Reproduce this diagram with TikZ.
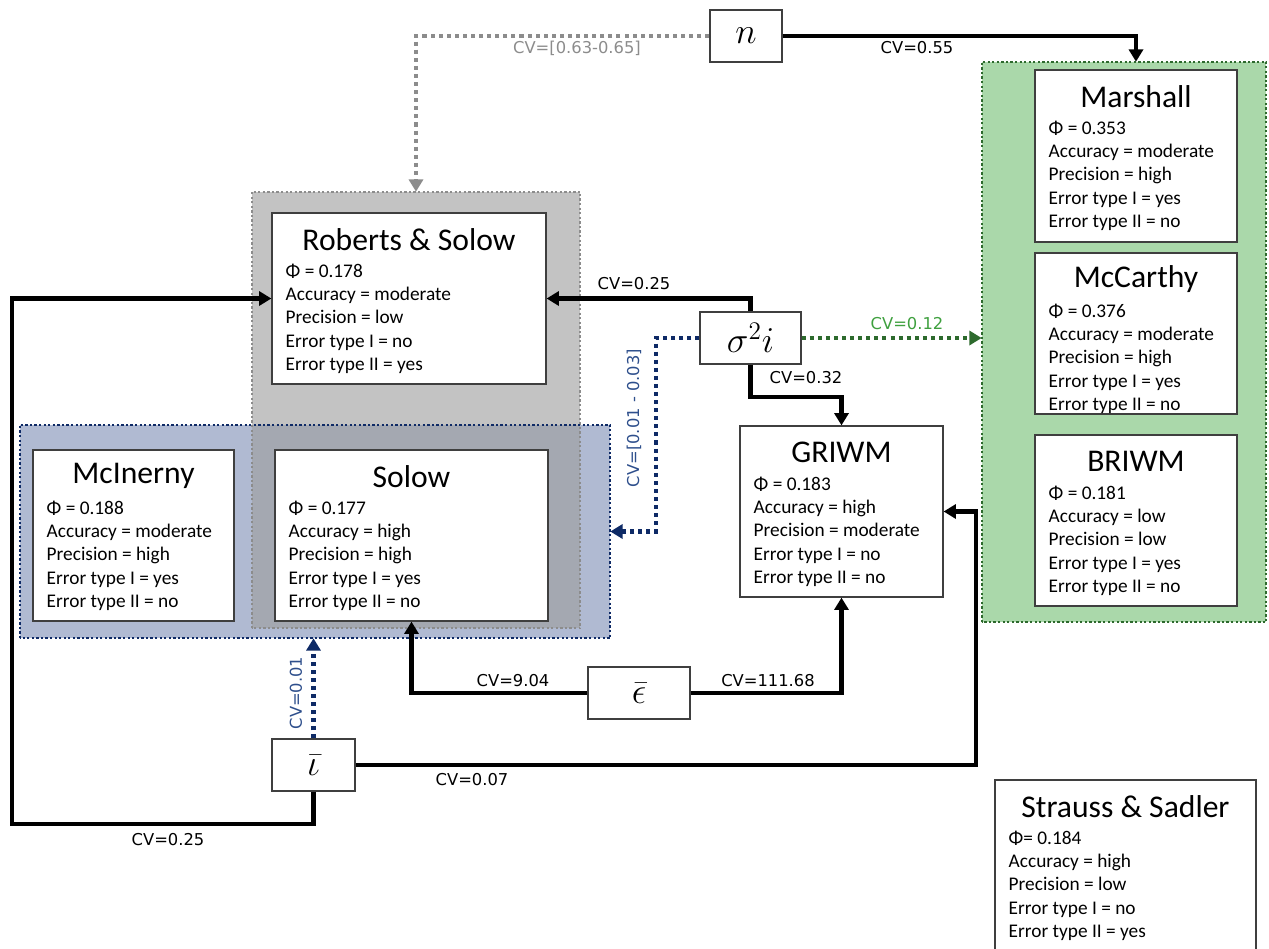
\documentclass[tikz,border=0pt]{standalone}
\usepackage{fontspec}
\setmainfont{Carlito}
\newfontfamily\cvfont{DejaVu Sans}
\usetikzlibrary{arrows.meta, calc}
\definecolor{frame}{HTML}{3F3F3F}
\definecolor{navy}{HTML}{0E2A66}
\definecolor{navytext}{HTML}{2E4F8C}
\definecolor{greyline}{HTML}{8C8C8C}
\definecolor{greyfill}{HTML}{9E9E9E}
\definecolor{bluefill}{HTML}{B0BAD2}
\definecolor{greenfill}{HTML}{AAD8AA}
\definecolor{greenline}{HTML}{2D6A2D}
\definecolor{greentext}{HTML}{3FA03F}
\tikzset{
  modelframe/.style={rectangle, draw=frame, line width=0.7pt, fill=white, inner sep=0pt},
  modeltitle/.style={font=\fontsize{18}{21}\selectfont, inner sep=0pt},
  modelbody/.style={font=\fontsize{11}{13.3}\selectfont, align=left, inner sep=0pt},
  varbox/.style={rectangle, draw=frame, line width=0.7pt, fill=white, minimum height=1.04cm,
    font=\fontsize{20}{24}\selectfont},
  region/.style={rectangle, inner sep=0pt},
  regionborder/.style={line width=1.3pt, dash pattern=on 1.3pt off 1.3pt},
  tip/.style={-{Triangle[length=7pt, width=8pt]}},
  solidlink/.style={tip, line width=2.3pt, draw=black},
  dotlink/.style={tip, line width=2.3pt, dash pattern=on 2.3pt off 2.3pt},
  cvlbl/.style={font=\cvfont\fontsize{9.3}{11}\selectfont, inner sep=1pt}
}
% name, centre, width (px), height (px), title, lines
\newcommand{\modelbox}[6]{%
  \node[modelframe, minimum width=#3*0.02cm, minimum height=#4*0.02cm] (#1) at #2 {};
  \node[modeltitle] (#1-title) at ($(#1.north)+(0,27)$) {#5};
  \node[modelbody, anchor=north west] (#1-body) at ($(#1.north west)+(14,51)$) {#6};
}

\begin{document}
\begin{tikzpicture}[x=0.02cm, y=-0.02cm]
  \useasboundingbox (0,0) rectangle (1269,948);

  % ---- Groups --------------------------------------------------------------
  \node[region, fill=bluefill, minimum width=11.8cm, minimum height=4.26cm] (blue) at (315,531.5) {};
  \node[region, fill=greyfill, fill opacity=0.62, minimum width=6.56cm, minimum height=8.72cm] (grey) at (416,410) {};
  \node[region, fill=greenfill, minimum width=5.68cm, minimum height=11.2cm] (green) at (1124,342) {};
  \draw[regionborder, draw=greyline] (grey.south west) rectangle (grey.north east);
  \draw[regionborder, draw=navy] (blue.south west) rectangle (blue.north east);
  \draw[regionborder, draw=greenline] (green.south west) rectangle (green.north east);

  % ---- Models --------------------------------------------------------------
  \modelbox{rs}{(409,298.5)}{274}{171}{Roberts \& Solow}
    {Φ = 0.178\\Accuracy = moderate\\Precision = low\\Error type I = no\\Error type II = yes}
  \modelbox{mcinerny}{(133.5,535.5)}{201}{171}{McInerny}
    {Φ = 0.188\\Accuracy = moderate\\Precision = high\\Error type I = yes\\Error type II = no}
  \modelbox{solow}{(411.5,535.5)}{273}{171}{Solow}
    {Φ = 0.177\\Accuracy = high\\Precision = high\\Error type I = yes\\Error type II = no}
  \modelbox{griwm}{(841.5,511.5)}{203}{171}{GRIWM}
    {Φ = 0.183\\Accuracy = high\\Precision = moderate\\Error type I = no\\Error type II = no}
  \modelbox{marshall}{(1136,156)}{202}{172}{Marshall}
    {Φ = 0.353\\Accuracy = moderate\\Precision = high\\Error type I = yes\\Error type II = no}
  \modelbox{mccarthy}{(1136,333.5)}{202}{161}{McCarthy}
    {Φ = 0.376\\Accuracy = moderate\\Precision = high\\Error type I = yes\\Error type II = no}
  \modelbox{briwm}{(1136,520.5)}{202}{171}{BRIWM}
    {Φ = 0.181\\Accuracy = low\\Precision = low\\Error type I = yes\\Error type II = no}
  \modelbox{strauss}{(1125.5,865.5)}{261}{171}{Strauss \& Sadler}
    {Φ= 0.184\\Accuracy = high\\Precision = low\\Error type I = no\\Error type II = yes}

  % ---- Variables -----------------------------------------------------------
  \node[varbox, minimum width=1.44cm] (n) at (746,36) {$n$};
  \node[varbox, minimum width=2.02cm] (sig) at (750.5,338) {$\sigma^2 i$};
  \node[varbox, minimum width=2.04cm] (eps) at (639,693) {$\bar{\epsilon}$};
  \node[varbox, minimum width=1.66cm] (iota) at (313.5,765) {$\bar{\iota}$};

  % ---- Links ---------------------------------------------------------------
  \draw[dotlink, draw=greyline, greyline] (n.west) -| (grey.north);
  \draw[solidlink] (n.east) -| (marshall.north |- green.north);
  \draw[solidlink] (sig.north) |- (rs.east);
  \draw[solidlink] (sig.south) -- ++(0,32) -| (griwm.north);
  \draw[dotlink, draw=greenline, greenline] (sig.east) -- (green.west |- sig.east);
  \draw[dotlink, draw=navy, navy] (sig.west) -- ++(-43,0) |- (blue.east);
  \draw[dotlink, draw=navy, navy] (iota.north) -- (iota.north |- blue.south);
  \draw[solidlink] (iota.east) -- ++(620,0) |- (griwm.east);
  \coordinate (loop) at (12,824);
  \draw[solidlink] (iota.south) |- (loop) |- (rs.west);
  \draw[solidlink] (eps.west) -| (solow.south);
  \draw[solidlink] (eps.east) -| (griwm.south);

  % ---- Link labels ---------------------------------------------------------
  \node[cvlbl, text=greyline] (cv-n-grey) at (577,48) {CV=[0.63-0.65]};
  \node[cvlbl] (cv-n-green) at (917,48) {CV=0.55};
  \node[cvlbl] (cv-sig-rs) at (634,284) {CV=0.25};
  \node[cvlbl] (cv-sig-griwm) at (806,378) {CV=0.32};
  \node[cvlbl, text=greentext] (cv-sig-green) at (907,324) {CV=0.12};
  \node[cvlbl, text=navytext, rotate=90] (cv-sig-blue) at (634,418) {CV=[0.01 - 0.03]};
  \node[cvlbl, text=navytext, rotate=90] (cv-iota-blue) at (296,693) {CV=0.01};
  \node[cvlbl] (cv-eps-solow) at (513,681) {CV=9.04};
  \node[cvlbl] (cv-eps-griwm) at (768,681) {CV=111.68};
  \node[cvlbl] (cv-iota-griwm) at (472,780) {CV=0.07};
  \node[cvlbl] (cv-iota-rs) at (168,840) {CV=0.25};

\end{tikzpicture}
\end{document}
